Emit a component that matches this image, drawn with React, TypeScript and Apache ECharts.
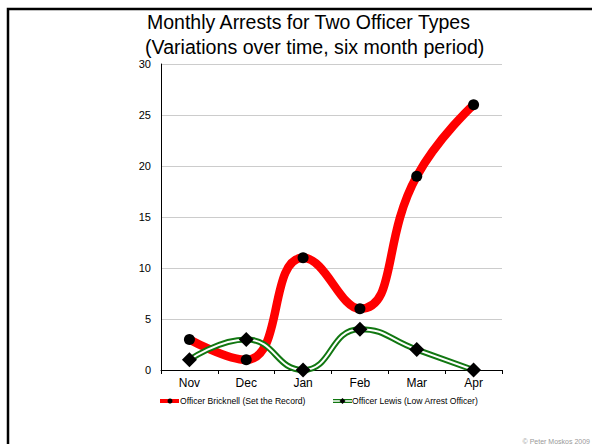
import React, { useEffect, useRef } from "react";
import * as echarts from "echarts";

const months = ["Nov", "Dec", "Jan", "Feb", "Mar", "Apr"];
const bricknell = [3, 1, 11, 6, 19, 26];
const lewis = [1, 3, 0, 4, 2, 0];
const titleLines = ["Monthly Arrests for Two Officer Types", "(Variations over time, six month period)"];
const legendNames = ["Officer Bricknell (Set the Record)", "Officer Lewis (Low Arrest Officer)"];
const credit = "© Peter Moskos 2009";

const FONT = "Liberation Sans, Arial, sans-serif";

export default function App() {
  const ref = useRef<HTMLDivElement>(null);
  useEffect(() => {
    if (!ref.current) return;
    const chart = echarts.init(ref.current, undefined, { renderer: "svg" });
    chart.setOption({
      animation: false,
      backgroundColor: "#ffffff",
      grid: { left: 161, right: 90, top: 64, bottom: 74 },
      xAxis: {
        type: "category",
        data: months,
        boundaryGap: true,
        axisLine: { lineStyle: { color: "#000", width: 1 } },
        axisTick: { show: true, length: 4, lineStyle: { color: "#000" } },
        axisLabel: { color: "#000", fontSize: 12, fontFamily: FONT, margin: 7 },
        splitLine: { show: false },
      },
      yAxis: {
        type: "value",
        min: 0,
        max: 30,
        interval: 5,
        axisLine: { show: true, lineStyle: { color: "#000", width: 1 } },
        axisTick: { show: false },
        axisLabel: { color: "#000", fontSize: 11, fontFamily: FONT, margin: 10 },
        splitLine: { show: true, lineStyle: { color: "#cccccc", width: 1 } },
      },
      series: [
        {
          name: legendNames[0],
          type: "line",
          data: bricknell,
          smooth: 0.5,
          lineStyle: { color: "#ff0000", width: 8.5 },
          itemStyle: { color: "#000" },
          symbol: "circle",
          symbolSize: 11,
          z: 2,
        },
        {
          name: legendNames[1],
          type: "line",
          data: lewis,
          smooth: 0.5,
          lineStyle: { color: "#117711", width: 6 },
          symbol: "none",
          z: 3,
        },
        {
          name: legendNames[1] + " inner",
          type: "line",
          data: lewis,
          smooth: 0.5,
          lineStyle: { color: "#ffffff", width: 2 },
          itemStyle: { color: "#000" },
          symbol: "diamond",
          symbolSize: 15,
          z: 4,
        },
      ],
      graphic: [
        {
          type: "polyline",
          shape: { points: [[8, 444], [8, 9], [592, 9]] },
          style: { stroke: "#000", lineWidth: 2.5, fill: "none" },
        },
        {
          type: "text",
          x: 147,
          y: 22,
          style: { text: titleLines[0], font: `19.5px ${FONT}`, fill: "#000", textAlign: "left", textVerticalAlign: "middle" },
        },
        {
          type: "text",
          x: 145,
          y: 47,
          style: { text: titleLines[1], font: `19.6px ${FONT}`, fill: "#000", textAlign: "left", textVerticalAlign: "middle" },
        },
        // legend 1
        { type: "line", shape: { x1: 160, y1: 401, x2: 179, y2: 401 }, style: { stroke: "#ff0000", lineWidth: 4 } },
        { type: "circle", shape: { cx: 170, cy: 401, r: 2.5 }, style: { fill: "#000" } },
        {
          type: "text",
          x: 180,
          y: 401,
          style: { text: legendNames[0], font: `8.6px ${FONT}`, fill: "#000", textVerticalAlign: "middle" },
        },
        // legend 2
        { type: "line", shape: { x1: 333, y1: 401, x2: 352, y2: 401 }, style: { stroke: "#117711", lineWidth: 4 } },
        { type: "line", shape: { x1: 333, y1: 401, x2: 352, y2: 401 }, style: { stroke: "#ffffff", lineWidth: 1.5 } },
        { type: "polygon", shape: { points: [[342.5, 398], [345.5, 401], [342.5, 404], [339.5, 401]] }, style: { fill: "#000" } },
        {
          type: "text",
          x: 352,
          y: 401,
          style: { text: legendNames[1], font: `8.6px ${FONT}`, fill: "#000", textVerticalAlign: "middle" },
        },
        {
          type: "text",
          x: 590,
          y: 441,
          style: { text: credit, font: `7px ${FONT}`, fill: "#999", textAlign: "right", textVerticalAlign: "middle" },
        },
      ],
    });
    return () => chart.dispose();
  }, []);
  return <div ref={ref} style={{ position: "fixed", left: 0, top: 0, width: 592, height: 444 }} />;
}
